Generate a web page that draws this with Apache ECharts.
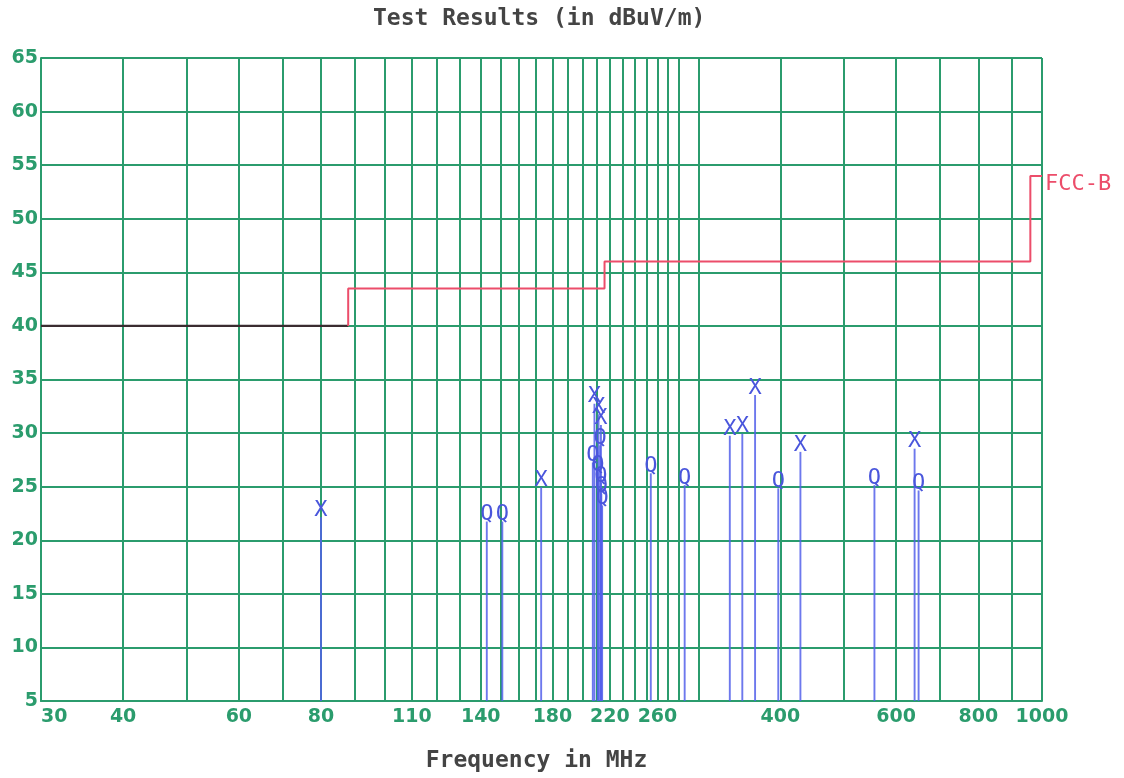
<!DOCTYPE html>
<html>
<head>
<meta charset="utf-8">
<title>Test Results (in dBuV/m)</title>
<script src="https://cdn.jsdelivr.net/npm/echarts@6/dist/echarts.min.js"></script>
<style>
  html, body { margin: 0; padding: 0; background: #ffffff; }
  #chart { width: 1124px; height: 778px; }
</style>
</head>
<body>
<div id="chart"></div>
<script>
// Frequency grid lines (MHz): every 10 MHz up to 300, then every 100 MHz
const gridFreqs = [30, 40, 50, 60, 70, 80, 90, 100, 110, 120, 130, 140, 150, 160, 170, 180, 190,
                   200, 210, 220, 230, 240, 250, 260, 270, 280, 300, 400, 500, 600, 700, 800, 900, 1000];
// Labelled frequencies (MHz)
const freqLabels = [30, 40, 60, 80, 110, 140, 180, 220, 260, 400, 600, 800, 1000];

// Level axis (dBuV/m)
const levelMin = 5;
const levelMax = 65;
const levelStep = 5;

// FCC class B radiated limit
const limitFreq  = [30, 88, 88, 216, 216, 960, 960, 1000];
const limitLevel = [40, 40, 43.5, 43.5, 46, 46, 54, 54];

// Measured emissions: frequency (MHz), level (dBuV/m), detector mark
const emiFreq  = [80, 143, 151, 173, 208.5, 211.5, 213.3, 212.7, 207.3, 211, 213.3, 213.6, 214.2,
                  254, 286, 335, 350, 366, 397, 429, 556, 640, 649];
const emiLevel = [22.8, 22.4, 22.4, 25.6, 33.4, 32.4, 31.4, 29.5, 27.9, 27.0, 26.0, 25.0, 23.9,
                  26.9, 25.8, 30.4, 30.6, 34.2, 25.5, 28.9, 25.8, 29.2, 25.3];
const emiMark  = ['X', 'Q', 'Q', 'X', 'X', 'X', 'X', 'Q', 'Q', 'Q', 'Q', 'Q', 'Q',
                  'Q', 'Q', 'X', 'X', 'X', 'Q', 'X', 'Q', 'X', 'Q'];

const GREEN = '#2b9c6d';
const RED = '#ec4d6a';
const DARK = '#3a2c30';
const STEM = 'rgba(84, 96, 234, 0.85)';
const MARK = '#4a56dc';
const MONO = '"DejaVu Sans Mono", "Liberation Mono", monospace';

const limitPairs = limitFreq.map((f, i) => [f, limitLevel[i]]);
const emiPairs = emiFreq.map((f, i) => [f, emiLevel[i]]);

const chart = echarts.init(document.getElementById('chart'), null, { renderer: 'canvas' });

chart.setOption({
  backgroundColor: '#ffffff',
  animation: false,
  title: {
    text: 'Test Results (in dBuV/m)',
    left: 373,
    top: 8,
    padding: 0,
    textStyle: { fontFamily: MONO, fontSize: 23, fontWeight: 'bold', color: '#444444' }
  },
  grid: { left: 41, right: 82, top: 58, bottom: 76, containLabel: false },
  xAxis: {
    type: 'log',
    logBase: 10,
    min: 30,
    max: 1000,
    name: 'Frequency in MHz',
    nameLocation: 'middle',
    nameGap: 49,
    nameTextStyle: { fontFamily: MONO, fontSize: 23, fontWeight: 'bold', color: '#444444', padding: [0, 10, 0, 0] },
    axisLine: { show: true, lineStyle: { color: GREEN, width: 2 } },
    axisTick: { show: false, customValues: gridFreqs },
    splitLine: { show: true, lineStyle: { color: GREEN, width: 2 } },
    minorSplitLine: { show: false },
    axisLabel: {
      customValues: freqLabels,
      formatter: function (v) { return String(v); },
      alignMinLabel: 'left',
      margin: 7,
      color: GREEN,
      fontFamily: '"DejaVu Sans", sans-serif',
      fontWeight: 'bold',
      fontSize: 19
    }
  },
  yAxis: {
    type: 'value',
    min: levelMin,
    max: levelMax,
    interval: levelStep,
    axisLine: { show: true, lineStyle: { color: GREEN, width: 2 } },
    axisTick: { show: false },
    splitLine: { show: true, lineStyle: { color: GREEN, width: 2 } },
    axisLabel: {
      margin: 3,
      color: GREEN,
      fontFamily: '"DejaVu Sans", sans-serif',
      fontWeight: 'bold',
      fontSize: 19
    }
  },
  series: [
    {
      name: 'FCC-B low band',
      type: 'line',
      data: limitPairs.slice(0, 2),
      symbol: 'none',
      lineStyle: { color: DARK, width: 2.2 },
      z: 3
    },
    {
      name: 'FCC-B',
      type: 'line',
      data: limitPairs.slice(1),
      symbol: 'none',
      lineStyle: { color: RED, width: 2 },
      endLabel: {
        show: true,
        formatter: 'FCC-B',
        distance: 3,
        color: RED,
        fontFamily: MONO,
        fontSize: 22,
        offset: [0, 8]
      },
      z: 3
    },
    {
      name: 'Emissions',
      type: 'custom',
      data: emiPairs,
      encode: { x: 0, y: 1 },
      clip: false,
      z: 4,
      renderItem: function (params, api) {
        const f = api.value(0);
        const v = api.value(1);
        const top = api.coord([f, v]);
        const foot = api.coord([f, levelMin]);
        const mark = emiMark[params.dataIndex];
        return {
          type: 'group',
          children: [
            {
              type: 'line',
              shape: { x1: foot[0], y1: foot[1], x2: top[0], y2: top[1] + 7 },
              style: { stroke: STEM, lineWidth: 1.9 }
            },
            {
              type: 'text',
              x: top[0],
              y: top[1],
              style: {
                text: mark,
                fill: MARK,
                fontFamily: MONO,
                fontSize: 22,
                align: 'center',
                verticalAlign: 'middle'
              }
            }
          ]
        };
      }
    }
  ]
});
</script>
</body>
</html>
